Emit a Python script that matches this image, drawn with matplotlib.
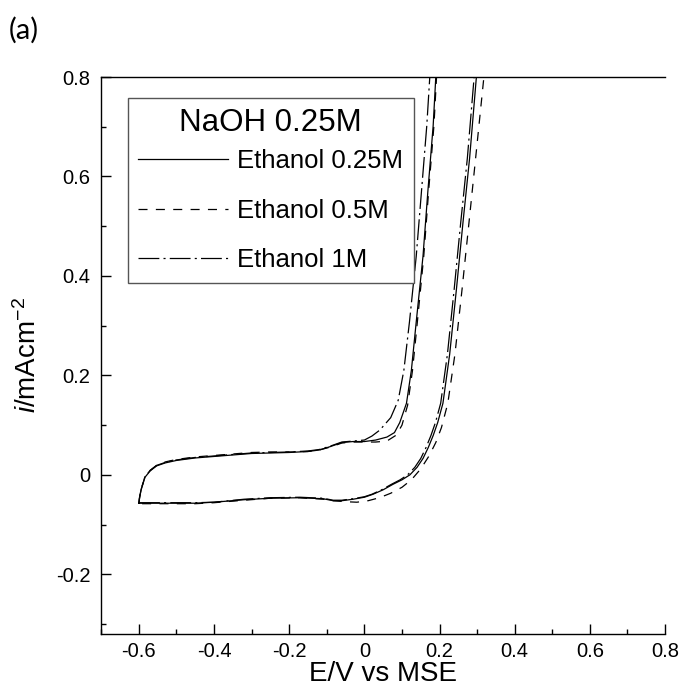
import matplotlib
matplotlib.use("Agg")
import matplotlib.pyplot as plt
from matplotlib.ticker import MultipleLocator

plt.rcParams['font.family'] = ['Liberation Sans', 'DejaVu Sans']
plt.rcParams['axes.unicode_minus'] = False
plt.rcParams['mathtext.fontset'] = 'custom'
plt.rcParams['mathtext.rm'] = 'Liberation Sans'
plt.rcParams['mathtext.it'] = 'Liberation Sans:italic'
plt.rcParams['lines.scale_dashes'] = False

# ==========================================
# CV curves, NaOH 0.25M (loop: forward branch, then return branch)
# ==========================================

# Ethanol 0.25M (solid)
e_025 = [-0.600, -0.598, -0.594, -0.584, -0.570, -0.553, -0.530, -0.500, -0.450, -0.400,
         -0.350, -0.300, -0.250, -0.200, -0.150, -0.120, -0.090, -0.060, -0.030, 0.000,
         0.030, 0.060, 0.080, 0.094, 0.112, 0.125, 0.138, 0.156, 0.169, 0.183, 0.190, 0.196,
         0.303, 0.298, 0.280, 0.262, 0.245, 0.227, 0.209, 0.195, 0.183, 0.170, 0.156,
         0.140, 0.121, 0.100, 0.076, 0.050, 0.023, 0.000, -0.030, -0.060, -0.083, -0.110,
         -0.172, -0.250, -0.320, -0.400, -0.450, -0.500, -0.550, -0.600]
i_025 = [-0.057, -0.045, -0.030, -0.005, 0.008, 0.018, 0.024, 0.029, 0.034, 0.037,
         0.040, 0.043, 0.044, 0.045, 0.047, 0.050, 0.057, 0.065, 0.067, 0.067,
         0.070, 0.076, 0.085, 0.105, 0.144, 0.210, 0.308, 0.440, 0.571, 0.702, 0.800, 0.900,
         0.900, 0.800, 0.637, 0.505, 0.374, 0.243, 0.144, 0.105, 0.079, 0.055, 0.033,
         0.015, 0.000, -0.010, -0.019, -0.030, -0.039, -0.045, -0.049, -0.052, -0.052, -0.048,
         -0.046, -0.047, -0.050, -0.055, -0.057, -0.057, -0.057, -0.057]

# Ethanol 0.5M (dashed)
e_05 = [-0.600, -0.598, -0.594, -0.584, -0.570, -0.553, -0.530, -0.500, -0.450, -0.400,
        -0.350, -0.300, -0.250, -0.200, -0.150, -0.120, -0.090, -0.060, -0.030, 0.000,
        0.030, 0.060, 0.085, 0.100, 0.115, 0.128, 0.141, 0.158, 0.171, 0.185, 0.192, 0.198,
        0.322, 0.318, 0.296, 0.278, 0.260, 0.241, 0.222, 0.205, 0.190, 0.172, 0.150,
        0.125, 0.100, 0.070, 0.040, 0.010, -0.020, -0.050, -0.083, -0.110,
        -0.172, -0.250, -0.320, -0.400, -0.450, -0.500, -0.550, -0.600]
i_05 = [-0.057, -0.044, -0.029, -0.004, 0.009, 0.019, 0.026, 0.031, 0.036, 0.039,
        0.042, 0.045, 0.046, 0.046, 0.047, 0.050, 0.056, 0.064, 0.066, 0.066,
        0.066, 0.068, 0.080, 0.100, 0.140, 0.210, 0.308, 0.440, 0.571, 0.702, 0.800, 0.900,
        0.900, 0.800, 0.637, 0.505, 0.374, 0.243, 0.144, 0.095, 0.065, 0.038, 0.012,
        -0.010, -0.025, -0.037, -0.046, -0.052, -0.055, -0.054, -0.052, -0.049,
        -0.046, -0.047, -0.051, -0.056, -0.058, -0.058, -0.058, -0.058]

# Ethanol 1M (dash-dot)
e_1 = [-0.600, -0.598, -0.594, -0.584, -0.570, -0.553, -0.530, -0.500, -0.450, -0.400,
       -0.350, -0.300, -0.250, -0.200, -0.150, -0.120, -0.090, -0.060, -0.030, 0.000,
       0.020, 0.041, 0.070, 0.090, 0.105, 0.120, 0.138, 0.152, 0.166, 0.174, 0.180,
       0.297, 0.292, 0.274, 0.256, 0.239, 0.221, 0.203, 0.189, 0.177, 0.164, 0.150,
       0.134, 0.115, 0.095, 0.072, 0.046, 0.020, 0.000, -0.030, -0.060, -0.083, -0.110,
       -0.172, -0.250, -0.320, -0.400, -0.450, -0.500, -0.550, -0.600]
i_1 = [-0.056, -0.044, -0.029, -0.004, 0.009, 0.019, 0.025, 0.030, 0.035, 0.038,
       0.041, 0.044, 0.045, 0.046, 0.048, 0.051, 0.058, 0.066, 0.068, 0.070,
       0.078, 0.090, 0.115, 0.150, 0.210, 0.308, 0.440, 0.571, 0.702, 0.800, 0.900,
       0.900, 0.800, 0.637, 0.505, 0.374, 0.243, 0.144, 0.105, 0.079, 0.055, 0.033,
       0.015, 0.000, -0.010, -0.019, -0.030, -0.039, -0.044, -0.048, -0.051, -0.051, -0.047,
       -0.045, -0.046, -0.049, -0.055, -0.056, -0.056, -0.056, -0.056]

rotulos = ['Ethanol 0.25M', 'Ethanol 0.5M', 'Ethanol 1M']

x_ticks = [-0.6, -0.4, -0.2, 0, 0.2, 0.4, 0.6, 0.8]
x_labels = ['-0.6', '-0.4', '-0.2', '0', '0.2', '0.4', '0.6', '0.8']
y_ticks = [-0.2, 0, 0.2, 0.4, 0.6, 0.8]
y_labels = ['-0.2', '0', '0.2', '0.4', '0.6', '0.8']

fig = plt.figure(figsize=(6.8, 6.97), dpi=100)
ax = fig.add_axes([0.149, 0.0904, 0.829, 0.7991])

ax.plot(e_025, i_025, color='black', linewidth=0.9, linestyle='-', label=rotulos[0])
ax.plot(e_05, i_05, color='black', linewidth=0.9, linestyle=(0, (6.5, 6)), label=rotulos[1])
ax.plot(e_1, i_1, color='black', linewidth=0.9, linestyle=(0, (15, 3, 1.5, 3)), label=rotulos[2])

ax.set_xlim(-0.7, 0.8)
ax.set_ylim(-0.32, 0.8)

ax.set_xticks(x_ticks)
ax.set_xticklabels(x_labels)
ax.set_yticks(y_ticks)
ax.set_yticklabels(y_labels)
ax.xaxis.set_minor_locator(MultipleLocator(0.1))
ax.yaxis.set_minor_locator(MultipleLocator(0.1))

ax.tick_params(which='both', direction='in', top=False, right=False, width=1,
               labelsize=14.5, pad=8)
ax.tick_params(axis='x', which='both', pad=6)
ax.tick_params(which='major', length=7)
ax.tick_params(which='minor', length=3.6)

ax.spines['right'].set_visible(False)
for s in ['left', 'bottom', 'top']:
    ax.spines[s].set_linewidth(1.0)

ax.set_xlabel('E/V vs MSE', fontsize=20, labelpad=0)
ax.set_ylabel(r'$\mathit{i}$/mAcm$^{\mathrm{-2}}$', fontsize=20, labelpad=10)

leg = ax.legend(title='NaOH 0.25M', title_fontsize=22.5, fontsize=18.5,
                loc='upper left', bbox_to_anchor=(0.047, 0.963), borderaxespad=0,
                handlelength=3.5, handletextpad=0.36, labelspacing=1.0,
                borderpad=0.4, fancybox=False, framealpha=1)
leg._legend_box.sep = 8
leg.get_frame().set_edgecolor('#555555')
leg.get_frame().set_linewidth(1.0)

fig.text(0.013, 1 - 30 / 697, '(a)', fontsize=21, family=['Lato', 'DejaVu Sans'],
         va='center', ha='left')

fig.savefig('out.png', dpi=100)
